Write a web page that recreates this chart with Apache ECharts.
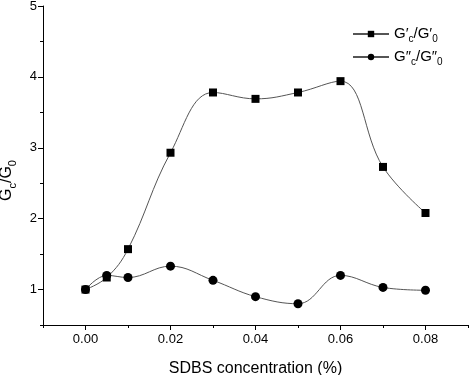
<!DOCTYPE html>
<html><head><meta charset="utf-8">
<script src="https://cdn.jsdelivr.net/npm/echarts@6/dist/echarts.min.js"></script>
<style>html,body{margin:0;padding:0;background:#fff}#c{width:472px;height:375px}</style>
</head><body><div id="c"></div>
<script>
const concentrations = [0.00, 0.005, 0.01, 0.02, 0.03, 0.04, 0.05, 0.06, 0.07, 0.08];
const storageRatio = [1.00, 1.17, 1.57, 2.93, 3.78, 3.69, 3.78, 3.94, 2.73, 2.08];
const lossRatio = [1.00, 1.20, 1.17, 1.33, 1.13, 0.90, 0.80, 1.20, 1.03, 0.99];
const xMajorTicks = [0.00, 0.02, 0.04, 0.06, 0.08];
const xMinorTicks = [-0.01, 0.01, 0.03, 0.05, 0.07, 0.09];
const yMajorTicks = [1, 2, 3, 4, 5];
const yMinorTicks = [0.5, 1.5, 2.5, 3.5, 4.5];
const seriesNames = ['Gp', 'Gpp'];

const font = 'Liberation Sans, Arial, sans-serif';
const pairs = (ys) => concentrations.map((x, i) => [x, ys[i]]);
const sub = {
  n: {fontSize: 15, fontFamily: font, color: '#000', lineHeight: 20, verticalAlign: 'top', padding: [2,0,0,0]},
  s: {fontSize: 10, fontFamily: font, color: '#000', lineHeight: 20, verticalAlign: 'bottom'}
};
const legendText = {
  Gp: '{n|G\u2032}{s|c}{n|/G\u2032}{s|0}',
  Gpp: '{n|G\u2033}{s|c}{n|/G\u2033}{s|0}'
};
const chart = echarts.init(document.getElementById('c'), null, {renderer: 'canvas'});
const grid = {left: 43, right: 4, top: 6, bottom: 50, containLabel: false, outerBoundsMode: 'none'};
const xBase = {type: 'value', min: -0.01, max: 0.09, gridIndex: 0, splitLine: {show: false}};
const yBase = {type: 'value', min: 0.5, max: 5, gridIndex: 0, splitLine: {show: false}};
chart.setOption({
  animation: false,
  backgroundColor: '#fff',
  grid: grid,
  legend: {
    orient: 'vertical', left: 347, top: 19, itemGap: 3,
    itemWidth: 36, itemHeight: 8,
    data: seriesNames,
    formatter: (n) => legendText[n],
    textStyle: {rich: sub, padding: [0,0,0,0]}
  },
  xAxis: [
    Object.assign({}, xBase, {
      name: 'SDBS concentration (%)', nameLocation: 'middle', nameGap: 36,
      nameTextStyle: {fontSize: 16, fontFamily: font, color: '#000'},
      axisLine: {onZero: false, lineStyle: {color: '#000', width: 1}},
      axisTick: {inside: false, length: 5, lineStyle: {color: '#000'}, customValues: xMajorTicks},
      axisLabel: {fontSize: 13, fontFamily: font, color: '#000', margin: 8,
        customValues: xMajorTicks, formatter: (v) => v.toFixed(2)}
    }),
    Object.assign({}, xBase, {
      position: 'bottom', axisLine: {show: false, onZero: false},
      axisTick: {inside: false, length: 3, lineStyle: {color: '#000'}, customValues: xMinorTicks},
      axisLabel: {show: false}
    })
  ],
  yAxis: [
    Object.assign({}, yBase, {
      name: '{n|G}{s|c}{n|/G}{s|0}', nameLocation: 'middle', nameGap: 21,
      nameTextStyle: {padding: [0, 30, 0, 0], rich: {
        n: {fontSize: 16, fontFamily: font, color: '#000', lineHeight: 22, verticalAlign: 'top', padding: [2,0,0,0]},
        s: {fontSize: 11, fontFamily: font, color: '#000', lineHeight: 22, verticalAlign: 'bottom'}
      }},
      axisLine: {onZero: false, lineStyle: {color: '#000', width: 1}},
      axisTick: {inside: false, length: 5, lineStyle: {color: '#000'}, customValues: yMajorTicks},
      axisLabel: {fontSize: 13, fontFamily: font, color: '#000', margin: 6,
        customValues: yMajorTicks, formatter: (v) => String(v)}
    }),
    Object.assign({}, yBase, {
      position: 'left', axisLine: {show: false, onZero: false},
      axisTick: {inside: false, length: 3, lineStyle: {color: '#000'}, customValues: yMinorTicks},
      axisLabel: {show: false}
    })
  ],
  series: [
    {name: 'Gp', type: 'line', data: pairs(storageRatio), smooth: 0.4,
     symbol: 'rect', symbolSize: 8,
     lineStyle: {color: '#555', width: 1}, itemStyle: {color: '#000'}},
    {name: 'Gpp', type: 'line', data: pairs(lossRatio), smooth: 0.4,
     symbol: 'circle', symbolSize: 9,
     lineStyle: {color: '#555', width: 1}, itemStyle: {color: '#000'}}
  ]
});
</script></body></html>
